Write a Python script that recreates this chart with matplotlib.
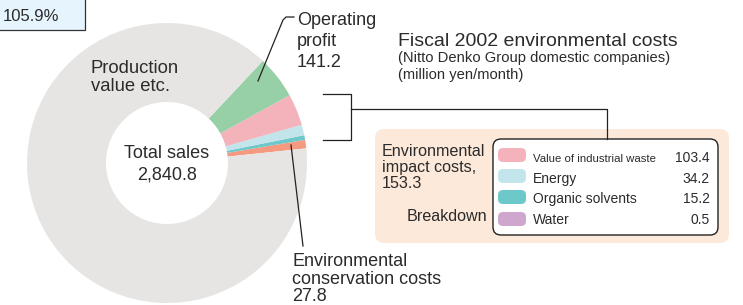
import matplotlib
matplotlib.use('Agg')
import matplotlib.pyplot as plt
from matplotlib.patches import FancyBboxPatch, Rectangle

plt.rcParams['font.family'] = ['Liberation Sans', 'DejaVu Sans']

# --- data (million yen/month) ---
total_sales = 2840.8
slice_names = ["Environmental conservation costs", "Organic solvents", "Water",
               "Energy", "Value of industrial waste", "Operating profit",
               "Production value etc."]
slice_values = [27.8, 15.2, 0.5, 34.2, 103.4, 141.2, 2518.5]
slice_colors = ['#f59a80', '#6dc8c9', '#cfa6ce', '#c2e5eb', '#f4b3ba', '#97d0a6', '#e6e5e3']

breakdown_labels = ["Value of industrial waste", "Energy", "Organic solvents", "Water"]
breakdown_values = [103.4, 34.2, 15.2, 0.5]
breakdown_colors = ['#f4b3ba', '#c2e5eb', '#6dc8c9', '#cfa6ce']
impact_total = 153.3
conservation_total = 27.8
operating_profit = 141.2
ratio_label = "105.9%"

TXT = '#2b2b2b'

fig = plt.figure(figsize=(7.43, 3.05), dpi=100)
ax = fig.add_axes([0, 0, 1, 1])

# donut (y axis is flipped below, so clockwise in data = counter-clockwise on screen)
ax.pie(slice_values, colors=slice_colors, center=(167, 163), radius=140,
       startangle=-6, counterclock=False,
       wedgeprops=dict(width=79, linewidth=0))
ax.set_xlim(0, 743)
ax.set_ylim(305, 0)
ax.set_aspect('equal')
ax.axis('off')

# ratio box top-left
ax.add_patch(Rectangle((-2, -2), 87, 32, facecolor='#e6f4fd', edgecolor='#333333', lw=0.9))
ax.text(3, 21, ratio_label, fontsize=12, color=TXT, va='baseline')

# labels on the donut
ax.text(91, 73, "Production", fontsize=13.3, color=TXT, va='baseline')
ax.text(91, 91, "value etc.", fontsize=13.3, color=TXT, va='baseline')
ax.text(167, 158, "Total sales", fontsize=13, color=TXT, va='baseline', ha='center')
ax.text(167, 180, f"{total_sales:,.1f}", fontsize=13, color=TXT, va='baseline', ha='center')

# operating profit callout
ax.plot([258, 283, 286, 294], [81, 20, 17, 17], color='#222222', lw=0.9)
ax.text(297, 25, "Operating", fontsize=13, color=TXT, va='baseline')
ax.text(297, 46, "profit", fontsize=13, color=TXT, va='baseline')
ax.text(297, 67, f"{operating_profit:.1f}", fontsize=13, color=TXT, va='baseline')

# title
ax.text(398, 46, "Fiscal 2002 environmental costs", fontsize=14, color=TXT, va='baseline')
ax.text(398, 62, "(Nitto Denko Group domestic companies)", fontsize=10.6, color=TXT,
        va='baseline')
ax.text(398, 79, "(million yen/month)", fontsize=10.6, color=TXT, va='baseline')

# bracket from the impact slices to the breakdown box
ax.plot([323, 351, 351, 323], [94, 94, 140, 140], color='#222222', lw=0.9)
ax.plot([351, 607, 607], [109, 109, 139], color='#222222', lw=0.9)

# peach panel + white legend box
ax.add_patch(FancyBboxPatch((375, 129), 354, 114, boxstyle='round,pad=0,rounding_size=9',
                            facecolor='#fde9d9', edgecolor='none'))
ax.add_patch(FancyBboxPatch((493, 139), 225, 96, boxstyle='round,pad=0,rounding_size=8',
                            facecolor='white', edgecolor='#222222', lw=1.0))

ax.text(382, 156, "Environmental", fontsize=11.6, color=TXT, va='baseline')
ax.text(382, 172, "impact costs,", fontsize=11.6, color=TXT, va='baseline')
ax.text(382, 188, f"{impact_total:.1f}", fontsize=11.6, color=TXT, va='baseline')
ax.text(487, 221, "Breakdown", fontsize=11.6, color=TXT, va='baseline', ha='right')

sw_top = [148, 169, 190, 212]
txt_base = [162, 183, 203, 224]
for i, (lab, val, col) in enumerate(zip(breakdown_labels, breakdown_values, breakdown_colors)):
    ax.add_patch(FancyBboxPatch((498, sw_top[i]), 28, 14, boxstyle='round,pad=0,rounding_size=5',
                                facecolor=col, edgecolor='none'))
    fs = 8.2 if i == 0 else 10
    ax.text(533, txt_base[i], lab, fontsize=fs, color=TXT, va='baseline')
    ax.text(710, txt_base[i], f"{val:.1f}", fontsize=10, color=TXT, va='baseline', ha='right')

# conservation callout
ax.plot([291, 303], [145, 246], color='#222222', lw=0.9)
ax.text(292, 266, "Environmental", fontsize=13, color=TXT, va='baseline')
ax.text(292, 284, "conservation costs", fontsize=13, color=TXT, va='baseline')
ax.text(292, 301, f"{conservation_total:.1f}", fontsize=13, color=TXT, va='baseline')

fig.savefig('out.png', dpi=100, facecolor='white')
